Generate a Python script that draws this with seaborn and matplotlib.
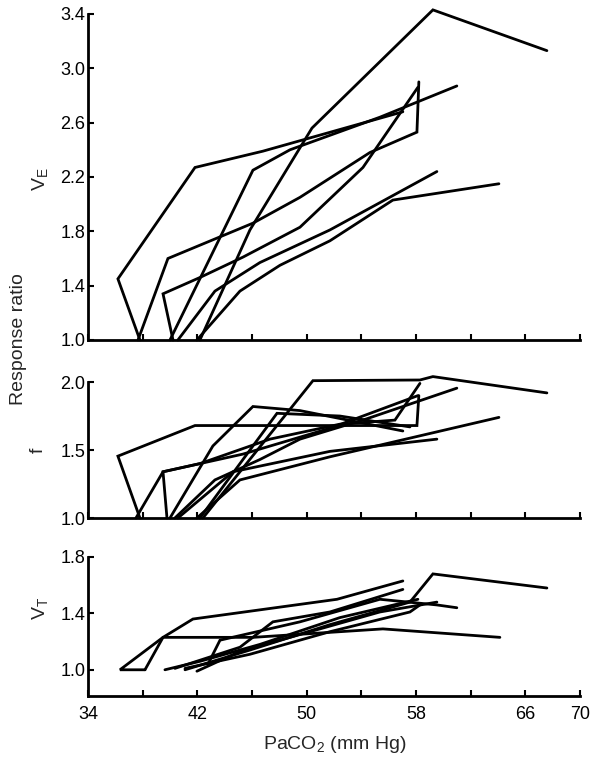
"""Ventilatory response ratios vs PaCO2 (VE, f, VT), one line per subject."""

import matplotlib

matplotlib.use("Agg")
import matplotlib.pyplot as plt
import pandas as pd
import seaborn as sns

# ---- data: one list per subject, x = PaCO2 (mm Hg) ----
ve_x = [
    [37.80, 36.19, 41.83, 46.80, 57.04],
    [37.66, 39.85, 46.07, 49.51, 54.63, 58.07, 58.21],
    [42.19, 45.85, 50.39, 59.24, 67.58],
    [40.00, 46.07, 48.78, 55.36, 60.99],
    [40.22, 39.49, 42.19, 45.34, 49.51, 54.12, 58.14],
    [40.58, 43.29, 46.58, 51.70, 59.53],
    [41.97, 45.12, 48.05, 51.70, 56.31, 64.07],
]
ve_y = [
    [1.00, 1.45, 2.27, 2.39, 2.68],
    [1.00, 1.60, 1.86, 2.05, 2.38, 2.53, 2.90],
    [1.00, 1.81, 2.56, 3.43, 3.13],
    [1.00, 2.25, 2.40, 2.64, 2.87],
    [1.00, 1.34, 1.46, 1.61, 1.83, 2.27, 2.86],
    [1.00, 1.36, 1.57, 1.81, 2.24],
    [1.00, 1.36, 1.55, 1.73, 2.03, 2.15],
]

f_x = [
    [37.80, 36.19, 41.83, 58.07, 58.21],
    [42.41, 50.46, 58.29, 59.24, 67.58],
    [37.51, 39.49, 42.19, 47.31, 52.43, 56.46, 58.29],
    [40.00, 43.14, 46.07, 49.51, 57.04],
    [40.36, 43.29, 46.58, 49.51, 54.41, 60.99],
    [42.19, 47.83, 52.43, 57.56],
    [40.58, 44.61, 51.70, 59.53],
    [41.97, 45.12, 51.70, 64.07],
    [39.78, 39.49, 45.34, 51.70, 58.14],
]
f_y = [
    [1.00, 1.455, 1.68, 1.68, 1.90],
    [1.00, 2.01, 2.015, 2.04, 1.92],
    [1.00, 1.34, 1.40, 1.58, 1.69, 1.72, 1.99],
    [1.00, 1.53, 1.82, 1.79, 1.64],
    [1.00, 1.28, 1.43, 1.58, 1.73, 1.955],
    [1.00, 1.77, 1.75, 1.67],
    [1.00, 1.34, 1.49, 1.58],
    [1.00, 1.28, 1.45, 1.74],
    [1.00, 1.34, 1.47, 1.66, 1.90],
]

vt_x = [
    [41.10, 45.85, 51.70, 57.56, 59.24, 67.58],
    [38.17, 36.34, 39.49, 41.68, 52.22, 57.04],
    [38.17, 39.49, 46.07, 55.58, 64.14],
    [42.78, 43.66, 49.51, 55.36, 59.53, 60.99],
    [39.63, 42.19, 46.58, 52.43, 58.14],
    [41.97, 45.12, 49.51, 55.36, 59.53],
    [40.36, 45.12, 47.53, 51.70, 57.04],
    [41.10, 45.85, 51.70, 57.56, 58.29],
]
vt_y = [
    [1.00, 1.14, 1.32, 1.48, 1.68, 1.58],
    [1.00, 1.00, 1.23, 1.36, 1.50, 1.63],
    [1.00, 1.23, 1.23, 1.29, 1.23],
    [1.04, 1.21, 1.34, 1.50, 1.46, 1.44],
    [1.00, 1.06, 1.18, 1.37, 1.50],
    [0.99, 1.13, 1.25, 1.41, 1.48],
    [1.01, 1.16, 1.34, 1.41, 1.57],
    [1.01, 1.11, 1.27, 1.41, 1.46],
]

x_ticks = [34, 38, 42, 46, 50, 54, 58, 62, 66, 70]
x_ticklabels = ["34", "", "42", "", "50", "", "58", "", "66", "70"]


def to_frame(xs, ys):
    rows = []
    for i, (xx, yy) in enumerate(zip(xs, ys)):
        for step, (a, b) in enumerate(zip(xx, yy)):
            rows.append({"subject": i, "step": step, "paco2": a, "ratio": b})
    return pd.DataFrame(rows)


sns.set_theme(style="ticks")
plt.rcParams["font.family"] = ["Liberation Sans", "DejaVu Sans"]

fig = plt.figure(figsize=(6.01, 7.63), dpi=100)
panels = [
    (ve_x, ve_y, [0.1464, 0.5544, 0.8186, 0.4273], (1.0, 3.4), [1.0, 1.4, 1.8, 2.2, 2.6, 3.0, 3.4]),
    (f_x, f_y, [0.1464, 0.3211, 0.8186, 0.1782], (1.0, 2.0), [1.0, 1.5, 2.0]),
    (vt_x, vt_y, [0.1464, 0.0878, 0.8186, 0.1822], (0.814, 1.8), [1.0, 1.4, 1.8]),
]

axes = []
for xs, ys, rect, ylim, yticks in panels:
    ax = fig.add_axes(rect)
    df = to_frame(xs, ys)
    sns.lineplot(
        data=df, x="paco2", y="ratio", units="subject", estimator=None,
        sort=False, color="black", linewidth=2.0, ax=ax,
    )
    for ln in ax.lines:
        ln.set_clip_on(False)
        ln.set_solid_joinstyle("miter")
    ax.set_xlim(34, 70)
    ax.set_ylim(*ylim)
    ax.set_yticks(yticks)
    ax.set_yticklabels([f"{t:.1f}" for t in yticks])
    ax.set_xticks(x_ticks)
    ax.set_xticklabels([])
    ax.set_xlabel("")
    ax.set_ylabel("")
    sns.despine(ax=ax)
    for side in ("left", "bottom"):
        ax.spines[side].set_linewidth(2.0)
        ax.spines[side].set_color("black")
    ax.tick_params(direction="in", length=4, width=1.5, colors="black",
                   labelsize=13, pad=2)
    axes.append(ax)

axes[-1].set_xticklabels(x_ticklabels)
axes[-1].tick_params(axis="x", pad=7, labelsize=13)

fig.text(0.067, 0.765, r"$\mathregular{V_E}$", rotation=90, ha="center", va="center", fontsize=14)
fig.text(0.063, 0.41, "f", rotation=90, ha="center", va="center", fontsize=14)
fig.text(0.067, 0.203, r"$\mathregular{V_T}$", rotation=90, ha="center", va="center", fontsize=14)
fig.text(0.03, 0.555, "Response ratio", rotation=90, ha="center", va="center", fontsize=14)
fig.text(0.557, 0.024, r"PaCO$\mathregular{_2}$ (mm Hg)", ha="center", va="center", fontsize=14)

fig.savefig("out.png", dpi=100)
plt.close(fig)
